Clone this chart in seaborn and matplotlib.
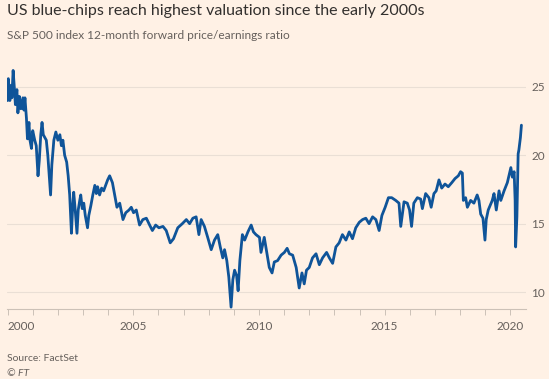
import pandas as pd
import matplotlib.pyplot as plt
import seaborn as sns

# S&P 500 12-month forward P/E (decimal years)
years = [
    2000.00, 2000.01, 2000.03, 2000.09, 2000.13, 2000.17, 2000.22, 2000.27, 2000.31, 2000.37,
    2000.41, 2000.47, 2000.53, 2000.61, 2000.65, 2000.69, 2000.75, 2000.79, 2000.85, 2000.89,
    2000.95, 2001.00, 2001.08, 2001.14, 2001.21, 2001.26, 2001.32, 2001.37, 2001.42, 2001.48,
    2001.54, 2001.60, 2001.71, 2001.76, 2001.84, 2001.92, 2002.00, 2002.08, 2002.14, 2002.20,
    2002.27, 2002.35, 2002.41, 2002.47, 2002.54, 2002.59, 2002.63, 2002.69, 2002.76, 2002.81,
    2002.87, 2002.91, 2002.97, 2003.03, 2003.09, 2003.18, 2003.23, 2003.31, 2003.39, 2003.47,
    2003.53, 2003.58, 2003.66, 2003.74, 2003.82, 2003.90, 2003.98, 2004.06, 2004.17, 2004.26,
    2004.35, 2004.46, 2004.59, 2004.70, 2004.83, 2004.92, 2005.01, 2005.12, 2005.25, 2005.38,
    2005.52, 2005.65, 2005.76, 2005.89, 2006.02, 2006.18, 2006.31, 2006.47, 2006.60, 2006.77,
    2006.95, 2007.11, 2007.24, 2007.37, 2007.50, 2007.61, 2007.70, 2007.83, 2007.96, 2008.10,
    2008.23, 2008.36, 2008.46, 2008.56, 2008.63, 2008.72, 2008.80, 2008.86, 2008.89, 2008.96,
    2009.03, 2009.11, 2009.17, 2009.24, 2009.34, 2009.43, 2009.56, 2009.69, 2009.78, 2009.88,
    2010.02, 2010.08, 2010.21, 2010.32, 2010.41, 2010.52, 2010.61, 2010.74, 2010.88, 2011.01,
    2011.12, 2011.21, 2011.34, 2011.48, 2011.60, 2011.71, 2011.80, 2011.89, 2012.00, 2012.13,
    2012.27, 2012.40, 2012.53, 2012.69, 2012.80, 2012.93, 2013.06, 2013.19, 2013.32, 2013.46,
    2013.59, 2013.72, 2013.85, 2013.99, 2014.12, 2014.25, 2014.38, 2014.52, 2014.65, 2014.78,
    2014.89, 2015.02, 2015.15, 2015.28, 2015.44, 2015.57, 2015.64, 2015.77, 2015.90, 2015.99,
    2016.07, 2016.16, 2016.30, 2016.43, 2016.50, 2016.63, 2016.76, 2016.85, 2016.96, 2017.05,
    2017.16, 2017.27, 2017.40, 2017.53, 2017.67, 2017.80, 2017.93, 2018.02, 2018.09, 2018.13,
    2018.22, 2018.29, 2018.42, 2018.55, 2018.68, 2018.75, 2018.82, 2018.91, 2018.99, 2019.04,
    2019.12, 2019.28, 2019.35, 2019.44, 2019.55, 2019.62, 2019.75, 2019.88, 2020.02, 2020.08,
    2020.15, 2020.19, 2020.21, 2020.26, 2020.31, 2020.34, 2020.40, 2020.44,
]
pe_ratio = [
    24.0, 25.5, 25.6, 24.0, 25.1, 24.2, 26.2, 24.9, 23.7, 24.8,
    23.1, 24.3, 23.4, 24.2, 23.3, 24.2, 22.7, 21.2, 22.4, 21.1,
    20.5, 21.8, 21.1, 20.7, 18.5, 19.6, 21.5, 22.4, 21.5, 21.3,
    21.1, 20.0, 17.1, 19.3, 21.1, 21.7, 21.1, 21.5, 20.7, 21.1,
    20.0, 19.5, 18.5, 17.1, 14.3, 16.3, 17.3, 16.0, 14.3, 16.0,
    16.7, 17.1, 16.1, 16.5, 15.6, 14.7, 15.6, 16.3, 17.1, 17.8,
    17.2, 17.7, 17.1, 17.6, 17.4, 17.8, 18.2, 18.5, 18.0, 17.1,
    16.2, 16.5, 15.3, 15.8, 16.0, 16.2, 15.8, 16.0, 14.9, 15.3,
    15.4, 14.9, 14.5, 14.9, 14.7, 14.8, 14.5, 13.6, 13.9, 14.7,
    15.0, 15.3, 15.0, 15.4, 15.5, 14.2, 15.3, 14.8, 14.0, 13.1,
    13.8, 14.2, 13.3, 12.5, 13.1, 12.3, 11.1, 9.6, 8.9, 10.9,
    11.6, 11.2, 10.1, 12.3, 14.2, 13.8, 14.4, 14.9, 14.4, 14.2,
    14.0, 12.9, 14.0, 12.8, 11.8, 11.4, 12.2, 12.3, 12.7, 12.9,
    13.2, 12.8, 12.7, 11.8, 10.3, 11.4, 10.6, 11.6, 11.8, 12.5,
    12.8, 12.0, 12.5, 12.9, 12.5, 12.1, 13.3, 13.6, 14.2, 13.8,
    14.4, 13.9, 14.7, 15.1, 15.3, 15.4, 15.0, 15.5, 15.3, 14.5,
    15.6, 16.2, 16.9, 16.9, 16.7, 16.5, 14.8, 16.6, 16.5, 16.0,
    14.8, 16.5, 16.9, 16.8, 16.1, 17.2, 16.9, 16.2, 17.2, 17.4,
    18.2, 17.6, 17.9, 17.7, 18.0, 18.3, 18.5, 18.8, 18.7, 16.7,
    16.9, 16.2, 16.7, 16.5, 17.1, 16.7, 15.7, 15.4, 13.8, 15.3,
    16.0, 16.7, 17.2, 16.0, 17.4, 16.7, 17.4, 18.0, 19.1, 18.4,
    18.8, 16.7, 13.3, 15.5, 20.1, 20.4, 21.3, 22.2,
]
y_ticks = [10, 15, 20, 25]
x_major = [2000, 2005, 2010, 2015, 2020]
x_minor = list(range(2000, 2021))

df = pd.DataFrame({"year": years, "pe": pe_ratio})

bg = "#fff1e5"
sns.set_theme(style="white")
plt.rcParams["font.family"] = ["Lato", "DejaVu Sans"]

fig = plt.figure(figsize=(5.49, 3.79), dpi=100, facecolor=bg)
ax = fig.add_axes([0.012, 0.186, 0.946, 0.657], facecolor=bg)

sns.lineplot(data=df, x="year", y="pe", ax=ax, color="#0f5499", linewidth=2.0)

ax.set_xlim(1999.96, 2020.62)
ax.set_ylim(8.8, 27.0)
ax.set_xlabel("")
ax.set_ylabel("")

ax.yaxis.tick_right()
ax.set_yticks(y_ticks)
ax.tick_params(axis="y", length=0, pad=4, labelsize=8.5, labelcolor="#66605c")
ax.grid(axis="y", color="#eadfd5", linewidth=0.8)

ax.set_xticks(x_major)
ax.set_xticks(x_minor, minor=True)
ax.tick_params(axis="x", which="both", direction="out", length=4, width=0.7,
               color="#ccc1b7", bottom=True, pad=5, labelsize=8.5, labelcolor="#66605c")
# FT style: first date label sits flush with its tick
ax.get_xticklabels()[0].set_horizontalalignment("left")

for side in ["top", "left", "right"]:
    ax.spines[side].set_visible(False)
ax.spines["bottom"].set_color("#ccc1b7")
ax.spines["bottom"].set_linewidth(0.8)

fig.text(0.012, 0.972, "US blue-chips reach highest valuation since the early 2000s",
         fontsize=11.5, color="#33302e", va="center")
fig.text(0.012, 0.906, "S&P 500 index 12-month forward price/earnings ratio",
         fontsize=8.6, color="#66605c", va="center")
fig.text(0.012, 0.054, "Source: FactSet", fontsize=7.5, color="#66605c", va="center")
fig.text(0.012, 0.015, "© FT", fontsize=7.5, color="#66605c", va="center", style="italic")

fig.savefig("out.png", dpi=100, facecolor=bg)
plt.close(fig)
